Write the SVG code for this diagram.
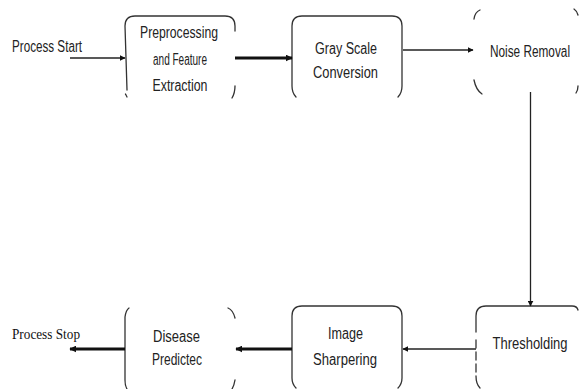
<svg xmlns="http://www.w3.org/2000/svg" width="582" height="389" viewBox="0 0 582 389">
<defs>
<style>
.box{fill:none;stroke:#333;stroke-width:1.3;stroke-linecap:round}
.t{font-family:"Liberation Sans","DejaVu Sans",sans-serif;font-size:16px;fill:#222;text-anchor:middle}
.s{font-family:"Liberation Serif","DejaVu Serif",serif;font-size:15px;fill:#111}
.thin{stroke:#222;stroke-width:1.3;fill:none}
.thick{stroke:#111;stroke-width:3.2;fill:none}
</style>
<marker id="ah" viewBox="0 0 10 10" refX="9" refY="5" markerWidth="6" markerHeight="6" markerUnits="userSpaceOnUse" orient="auto"><path d="M0,0 L10,5 L0,10 z" fill="#111"/></marker>
<marker id="ahb" viewBox="0 0 10 10" refX="9" refY="5" markerWidth="7" markerHeight="7" markerUnits="userSpaceOnUse" orient="auto"><path d="M0,0 L10,5 L0,10 z" fill="#111"/></marker>
</defs>
<rect width="582" height="389" fill="#fff"/>

<g id="start">
<text class="t" x="47" y="52" font-size="14" textLength="70" lengthAdjust="spacingAndGlyphs">Process Start</text>
</g>

<g id="preprocessing">
<path class="box" d="M127 90 L125 26 Q125 16 135 16 L225 16 Q235 16 235 26 L235 31"/>
<path class="box" d="M235 86 Q235 93 232 98"/>
<path class="box" d="M125.5 94 L127 97"/>
<text class="t" x="179" y="38" textLength="78" lengthAdjust="spacingAndGlyphs">Preprocessing</text>
<text class="t" x="180" y="65" textLength="54" lengthAdjust="spacingAndGlyphs">and Feature</text>
<text class="t" x="180" y="91" textLength="55" lengthAdjust="spacingAndGlyphs">Extraction</text>
</g>

<g id="grayscale">
<path class="box" d="M296 97 Q292 93 292 86 L292 26 Q292 16 302 16 L392 16 Q402 16 402 26 L402 86 Q402 93 398 97"/>
<text class="t" x="346" y="54" textLength="62" lengthAdjust="spacingAndGlyphs">Gray Scale</text>
<text class="t" x="345.5" y="78" textLength="65" lengthAdjust="spacingAndGlyphs">Conversion</text>
</g>

<g id="noise">
<path class="box" d="M474 19 Q475 12 480 10"/>
<path class="box" d="M474 80 Q476 90 482 94"/>
<path class="box" d="M574 9 Q577 11 578 15"/>
<path class="box" d="M578 86 Q578 90 576 93"/>
<text class="t" x="530" y="57" font-size="14" textLength="80" lengthAdjust="spacingAndGlyphs">Noise Removal</text>
</g>

<g id="thresholding">
<path class="box" d="M476 332 L476 316 Q476 306 486 306 L572 306 Q577 306 578 310"/>
<path class="box" d="M476 340 L476 372" stroke-dasharray="8 4"/>
<path class="box" d="M476 376 Q476 384 480 388"/>
<text class="t" x="530" y="349" font-size="14" textLength="75" lengthAdjust="spacingAndGlyphs">Thresholding</text>
</g>

<g id="sharpening">
<path class="box" d="M296 388 Q292 384 292 378 L292 316 Q292 306 302 306 L392 306 Q402 306 402 316 L402 378 Q402 384 398 388"/>
<text class="t" x="345.5" y="339" textLength="35" lengthAdjust="spacingAndGlyphs">Image</text>
<text class="t" x="345" y="365" textLength="64" lengthAdjust="spacingAndGlyphs">Sharpering</text>
</g>

<g id="disease">
<path class="box" d="M129 308 Q126 310 125 317 L125 380 Q125 386 127 389"/>
<path class="box" d="M228 308 Q233 310 235 318"/>
<path class="box" d="M235 380 Q234 386 232 389"/>
<text class="t" x="176.5" y="342" textLength="47" lengthAdjust="spacingAndGlyphs">Disease</text>
<text class="t" x="177" y="365" textLength="50" lengthAdjust="spacingAndGlyphs">Predictec</text>
</g>

<g id="stop">
<text class="s" x="12" y="339" textLength="68" lengthAdjust="spacingAndGlyphs">Process Stop</text>
</g>

<g id="connectors">
<line class="thin" x1="70" y1="58" x2="125" y2="58" marker-end="url(#ah)"/>
<line class="thick" x1="235" y1="58" x2="292" y2="58" marker-end="url(#ahb)"/>
<line class="thin" x1="403" y1="50" x2="473" y2="50" marker-end="url(#ah)"/>
<line class="thin" x1="530.5" y1="92" x2="530.5" y2="306" marker-end="url(#ah)"/>
<line class="thin" x1="476" y1="349" x2="403" y2="349" stroke-width="1.6" marker-end="url(#ah)"/>
<line class="thick" x1="292" y1="349" x2="236" y2="349" marker-end="url(#ahb)"/>
<line class="thick" x1="125" y1="349" x2="70" y2="349" marker-end="url(#ahb)"/>
</g>
</svg>
